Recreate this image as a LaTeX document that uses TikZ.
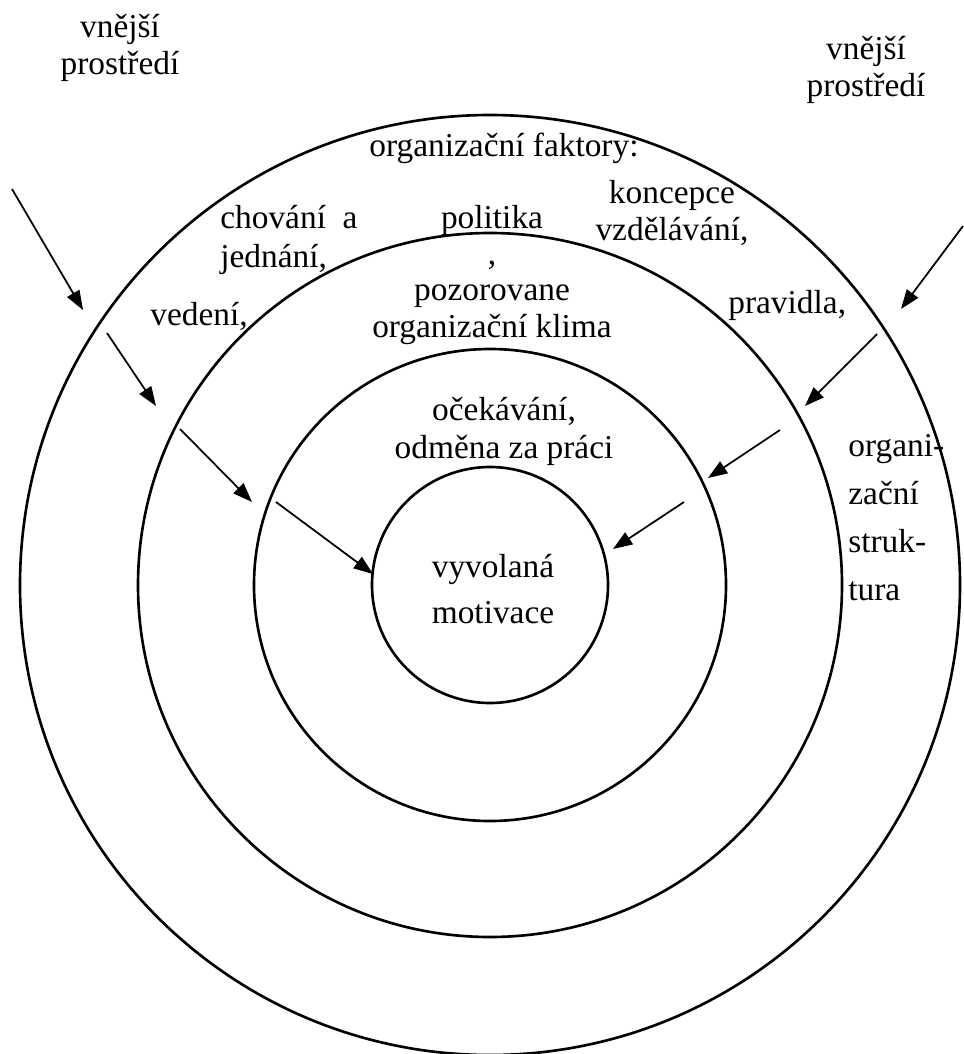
\documentclass[tikz,border=0pt]{standalone}
\usepackage{fontspec}
\setmainfont{Liberation Serif}
\usetikzlibrary{arrows.meta}
\tikzset{
  ring/.style={draw=black,line width=1.5pt},
  arrow-in/.style={-{Triangle[length=11pt,width=8pt]},line width=1pt,draw=black},
  txt/.style={inner sep=0pt,anchor=base,align=center,
    font=\fontsize{19}{#1}\selectfont},
  txt/.default=21.5pt,
  txt-left/.style={txt=#1,anchor=base west,align=left},
  txt-left/.default=21.5pt,
}

\begin{document}
\begin{tikzpicture}[x=0.02cm,y=-0.02cm]
  \useasboundingbox (0,0) rectangle (963,1054);
  % soustředné kruhy
  \coordinate (c) at (490,585);
  \draw[ring] (c) circle (470);
  \draw[ring] (c) circle (352);
  \draw[ring] (c) circle (236);
  \draw[ring] (c) circle (118);

  % texty (poloha = účaří posledního řádku)
  \node[txt=21.5pt] (env-l) at (120,75) {vnější\\prostředí};
  \node[txt=21.5pt] (env-r) at (866,97) {vnější\\prostředí};
  \node[txt] (org-f) at (504,157) {organizační faktory:};
  \node[txt-left=22pt] (behav) at (220,267) {chování~ a\\jednání,};
  \node[txt=20.5pt] (climate) at (492,337) {politika\\,\\pozorovane\\organizační klima};
  \node[txt=21pt] (edu) at (672,240) {koncepce\\vzdělávání,};
  \node[txt-left] (lead) at (150,325) {vedení,};
  \node[txt-left] (rules) at (728,313) {pravidla,};
  \node[txt=21.5pt] (expect) at (504,458) {očekávání,\\odměna za práci};
  \node[txt=26pt] (motiv) at (493,623) {vyvolaná\\motivace};
  \node[txt-left=27.3pt] (struct) at (848,600) {organi-\\zační\\struk-\\tura};

  % šipky zvenku dovnitř
  \coordinate (l1a) at (12,189);   \coordinate (l1b) at (83,310);
  \coordinate (l2a) at (107,333);  \coordinate (l2b) at (156,406);
  \coordinate (l3a) at (180,429);  \coordinate (l3b) at (252,502);
  \coordinate (l4a) at (276,502);  \coordinate (l4b) at (373,574);
  \coordinate (r1a) at (963,226);  \coordinate (r1b) at (901,309);
  \coordinate (r2a) at (877,334);  \coordinate (r2b) at (805,406);
  \coordinate (r3a) at (780,430);  \coordinate (r3b) at (708,478);
  \coordinate (r4a) at (684,502);  \coordinate (r4b) at (613,549);
  \draw[arrow-in] (l1a) -- (l1b);
  \draw[arrow-in] (l2a) -- (l2b);
  \draw[arrow-in] (l3a) -- (l3b);
  \draw[arrow-in] (l4a) -- (l4b);
  \draw[arrow-in] (r1a) -- (r1b);
  \draw[arrow-in] (r2a) -- (r2b);
  \draw[arrow-in] (r3a) -- (r3b);
  \draw[arrow-in] (r4a) -- (r4b);
\end{tikzpicture}
\end{document}
